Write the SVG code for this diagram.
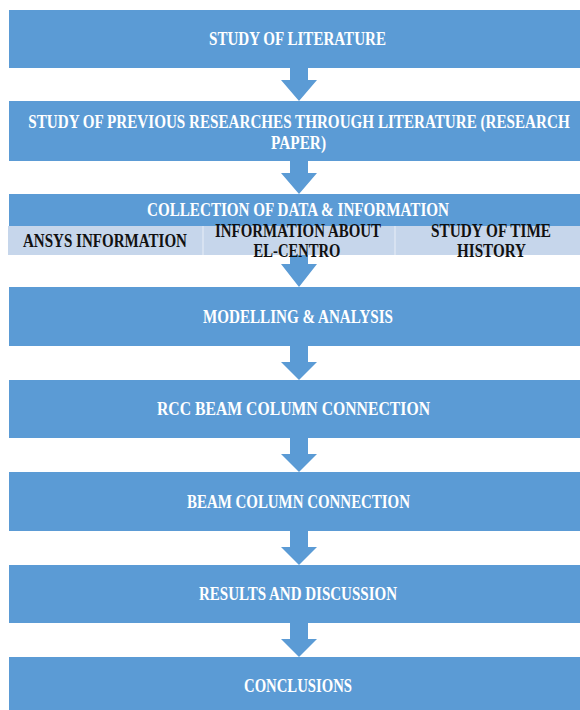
<svg xmlns="http://www.w3.org/2000/svg" width="580" height="710" viewBox="0 0 580 710">
<style>
.box{fill:#5B9BD5}
.band{fill:#C6D6EB}
.sep{stroke:#DCE6F3;stroke-width:1.5}
.arr{fill:#5B9BD5}
.t{font-family:"Liberation Serif","Times New Roman",serif;font-weight:bold;font-size:19px;text-anchor:middle;fill:#FFFFFF}
.d{font-family:"Liberation Serif","Times New Roman",serif;font-weight:bold;font-size:19px;text-anchor:middle;fill:#111111}
</style>
<rect width="580" height="710" fill="#FFFFFF"/>
<g id="connectors">
<polygon class="arr" points="290,68 308,68 308,80 317,80 299,101 281,80 290,80"/>
<polygon class="arr" points="290,161 308,161 308,173 317,173 299,194 281,173 290,173"/>
<polygon class="arr" points="290,255 308,255 308,264 317,264 299,287 281,264 290,264"/>
<polygon class="arr" points="290,346 308,346 308,362 317,362 299,380 281,362 290,362"/>
<polygon class="arr" points="290,438 308,438 308,454 317,454 299,472 281,454 290,454"/>
<polygon class="arr" points="290,531 308,531 308,547 317,547 299,565 281,547 290,547"/>
<polygon class="arr" points="290,623 308,623 308,639 317,639 299,657 281,639 290,639"/>
</g>
<g id="n1">
<rect class="box" x="9" y="10" width="571" height="58"/>
<text class="t" x="297.5" y="45" textLength="177" lengthAdjust="spacingAndGlyphs">STUDY OF LITERATURE</text>
</g>
<g id="n2">
<rect class="box" x="9" y="101" width="571" height="60"/>
<text class="t" transform="translate(299,128) scale(0.78,1)" x="0" y="0" textLength="694" lengthAdjust="spacingAndGlyphs">STUDY OF PREVIOUS RESEARCHES THROUGH  LITERATURE (RESEARCH</text>
<text class="t" x="298.5" y="148.5" textLength="55" lengthAdjust="spacingAndGlyphs">PAPER)</text>
</g>
<g id="n3">
<rect class="box" x="9" y="194" width="571" height="32"/>
<text class="t" x="298" y="216" textLength="302" lengthAdjust="spacingAndGlyphs">COLLECTION OF DATA &amp; INFORMATION</text>
</g>
<g id="n3a">
<rect class="band" x="8" y="226" width="195" height="29"/>
<text class="d" x="105" y="246.5" textLength="164" lengthAdjust="spacingAndGlyphs">ANSYS INFORMATION</text>
</g>
<g id="n3b">
<rect class="band" x="203" y="226" width="192" height="29"/>
<text class="d" x="298" y="236.5" textLength="166" lengthAdjust="spacingAndGlyphs">INFORMATION ABOUT</text>
<text class="d" x="297" y="256.5" textLength="87" lengthAdjust="spacingAndGlyphs">EL-CENTRO</text>
</g>
<g id="n3c">
<rect class="band" x="395" y="226" width="185" height="29"/>
<line class="sep" x1="203" y1="226" x2="203" y2="255"/>
<line class="sep" x1="395" y1="226" x2="395" y2="255"/>
<text class="d" x="491" y="236.5" textLength="120" lengthAdjust="spacingAndGlyphs">STUDY OF TIME</text>
<text class="d" x="491.5" y="256.5" textLength="69" lengthAdjust="spacingAndGlyphs">HISTORY</text>
</g>
<g id="n4">
<rect class="box" x="9" y="287" width="571" height="59"/>
<text class="t" x="298" y="323" textLength="190" lengthAdjust="spacingAndGlyphs">MODELLING &amp; ANALYSIS</text>
</g>
<g id="n5">
<rect class="box" x="9" y="380" width="571" height="58"/>
<text class="t" x="293.5" y="415" textLength="273" lengthAdjust="spacingAndGlyphs">RCC BEAM COLUMN CONNECTION</text>
</g>
<g id="n6">
<rect class="box" x="9" y="472" width="571" height="59"/>
<text class="t" x="298.5" y="508" textLength="223" lengthAdjust="spacingAndGlyphs">BEAM COLUMN CONNECTION</text>
</g>
<g id="n7">
<rect class="box" x="9" y="565" width="571" height="58"/>
<text class="t" x="298" y="600" textLength="198" lengthAdjust="spacingAndGlyphs">RESULTS AND DISCUSSION</text>
</g>
<g id="n8">
<rect class="box" x="9" y="657" width="571" height="53"/>
<text class="t" x="298" y="692" textLength="108" lengthAdjust="spacingAndGlyphs">CONCLUSIONS</text>
</g>
</svg>
